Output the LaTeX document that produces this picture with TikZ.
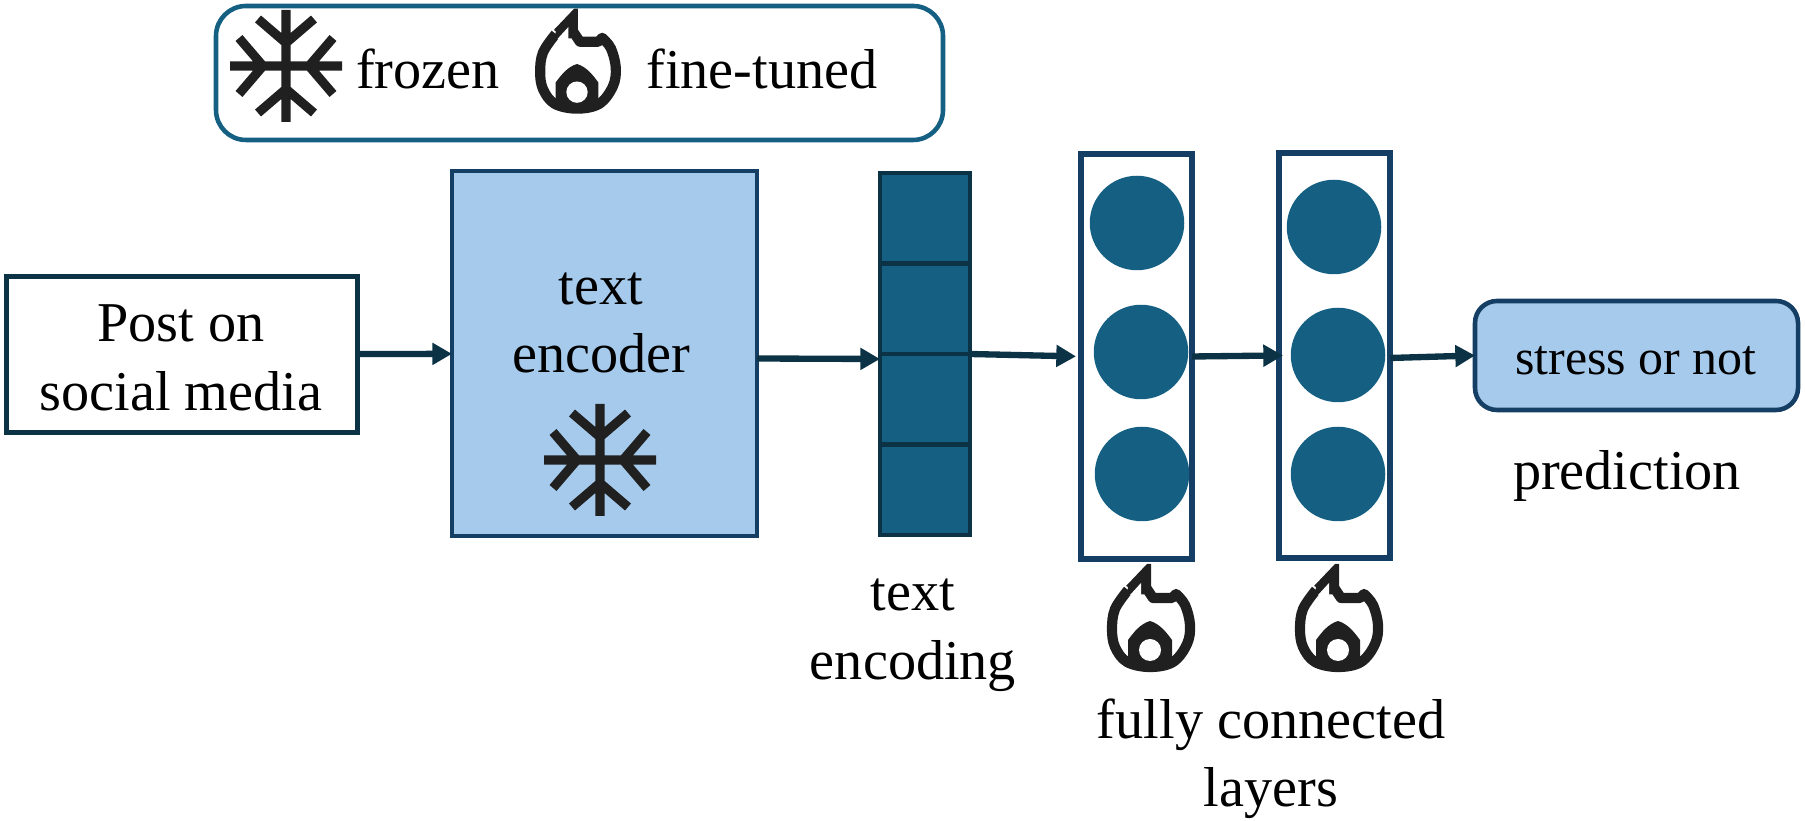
\documentclass[tikz,border=0pt]{standalone}
\usepackage{fontspec}
\setmainfont{Liberation Serif}
\usetikzlibrary{arrows.meta}
\definecolor{arrowteal}{HTML}{0B3245}
\definecolor{barteal}{HTML}{156082}
\definecolor{boxblue}{HTML}{A6CAEC}
\definecolor{edgeblue}{HTML}{153E64}
\definecolor{icongray}{HTML}{202020}
\tikzset{
    bigtext/.style={font=\fontsize{16}{19.5}\selectfont,align=center},
    snowflake/.pic={
        \draw [icongray,line width=2.6pt]
            (-0.56,0) -- (0.56,0) (0,-0.56) -- (0,0.56)
            (0.23,0) -- (0.47,0.28) (0.23,0) -- (0.47,-0.28)
            (-0.23,0) -- (-0.47,0.28) (-0.23,0) -- (-0.47,-0.28)
            (0,0.23) -- (0.28,0.47) (0,0.23) -- (-0.28,0.47)
            (0,-0.23) -- (0.28,-0.47) (0,-0.23) -- (-0.28,-0.47);
    },
    flame/.pic={
        \draw [icongray,line width=2.9pt,line join=round]
            (-0.03,0.33) -- (-0.22,0.32)
            plot [smooth,tension=0.6] coordinates {(-0.22,0.32) (-0.35,0.13) (-0.38,-0.07)
                (-0.35,-0.25) (-0.23,-0.40) (0,-0.45) (0.23,-0.40) (0.37,-0.22)
                (0.40,-0.03) (0.35,0.17) (0.26,0.28)}
            -- (0.22,0.24) -- (0.03,0.24) -- (-0.03,0.33);
        \fill [icongray] (-0.24,0.36) -- (-0.03,0.58) -- (0.01,0.58) -- (0.01,0.30)
            -- (-0.10,0.30) -- cycle;
        \fill [white] (-0.20,0.27) -- (-0.09,0.39) -- (-0.09,0.27) -- cycle;
        \fill [icongray]
            (0,0.01) .. controls (0.10,-0.02) and (0.16,-0.10) .. (0.22,-0.18)
            -- (0.22,-0.42) -- (-0.22,-0.42) -- (-0.22,-0.18)
            .. controls (-0.16,-0.10) and (-0.10,-0.02) .. (0,0.01) -- cycle;
        \fill [white] (0,-0.28) circle (0.11);
    }
}

\begin{document}
\begin{tikzpicture}
    \useasboundingbox (0,0) rectangle (18.05,-8.21);

    % legend
    \node (legend) at (5.795,-0.73) [draw=barteal,line width=1.3pt,rounded corners=0.3cm,
        inner sep=0pt,minimum width=7.27cm,minimum height=1.34cm] {};
    \pic at (2.86,-0.66) {snowflake};
    \node (frozen) at (4.28,-0.69) [bigtext] {frozen};
    \pic at (5.77,-0.65) [scale=0.97] {flame};
    \node (finetuned) at (7.62,-0.69) [bigtext] {fine-tuned};

    % boxes
    \begin{scope}[every node/.style={inner sep=0pt,outer sep=0pt}]
        \node (post) at (1.82,-3.545) [draw=arrowteal,line width=1.5pt,fill=white,
            minimum width=3.51cm,minimum height=1.56cm] {};
        \node (encoder) at (6.045,-3.535) [draw=edgeblue,line width=1.3pt,fill=boxblue,
            minimum width=3.05cm,minimum height=3.65cm] {};
        \node (stress) at (16.365,-3.555) [draw=edgeblue,line width=1.3pt,fill=boxblue,
            rounded corners=0.22cm,minimum width=3.23cm,minimum height=1.09cm] {};
    \end{scope}

    % encoding bar
    \begin{scope}[every node/.style={draw=arrowteal,line width=1.4pt,fill=barteal,inner sep=0pt,
            outer sep=0pt,minimum width=0.9cm,minimum height=0.905cm}]
        \node (cell1) at (9.25,-2.1825) {};
        \node (cell2) at (9.25,-3.0875) {};
        \node (cell3) at (9.25,-3.9925) {};
        \node (cell4) at (9.25,-4.8975) {};
    \end{scope}

    % fully connected layers
    \begin{scope}[every node/.style={draw=edgeblue,line width=1.7pt,inner sep=0pt,outer sep=0pt,
            minimum width=1.11cm,minimum height=4.05cm}]
        \node (fc1) at (11.365,-3.565) {};
        \node (fc2) at (13.345,-3.555) {};
    \end{scope}
    \begin{scope}[every node/.style={circle,fill=barteal,inner sep=0pt,minimum size=0.945cm}]
        \node (n11) at (11.37,-2.23) {};
        \node (n12) at (11.41,-3.52) {};
        \node (n13) at (11.42,-4.74) {};
        \node (n21) at (13.34,-2.27) {};
        \node (n22) at (13.38,-3.55) {};
        \node (n23) at (13.38,-4.74) {};
    \end{scope}

    % connectors
    \begin{scope}[>={Stealth[inset=0pt,length=5.6pt,width=6pt]},
            every edge/.style={draw=arrowteal,line width=1.8pt}]
        \path [->] (post) edge (encoder);
        \path [->] ([yshift=-0.05cm]encoder.east) edge ([yshift=-0.05cm]cell2.south west);
        \path [->] (cell2.south east) edge[shorten >=0.05cm] (fc1.west);
        \path [->] (fc1.east) edge[shorten >=-0.04cm] (fc2.west);
        \path [->] ([yshift=-0.025cm]fc2.east) edge (stress.west);
    \end{scope}

    % icons and labels
    \pic at (6.00,-4.60) {snowflake};
    \pic at (11.50,-6.22) {flame};
    \pic at (13.38,-6.22) {flame};
    \node (encname) at (6.01,-3.23) [bigtext] {text\\encoder};
    \node (postname) at (1.81,-3.58) [bigtext] {Post on\\social media};
    \node (encoding) at (9.13,-6.35) [bigtext] {text\\encoding};
    \node (fcname) at (12.71,-7.59) [bigtext] {fully connected\\layers};
    \node (stressname) at (16.36,-3.61) [font=\fontsize{14.2}{17}\selectfont] {stress or not};
    \node (prediction) at (16.27,-4.76) [bigtext] {prediction};
\end{tikzpicture}
\end{document}
